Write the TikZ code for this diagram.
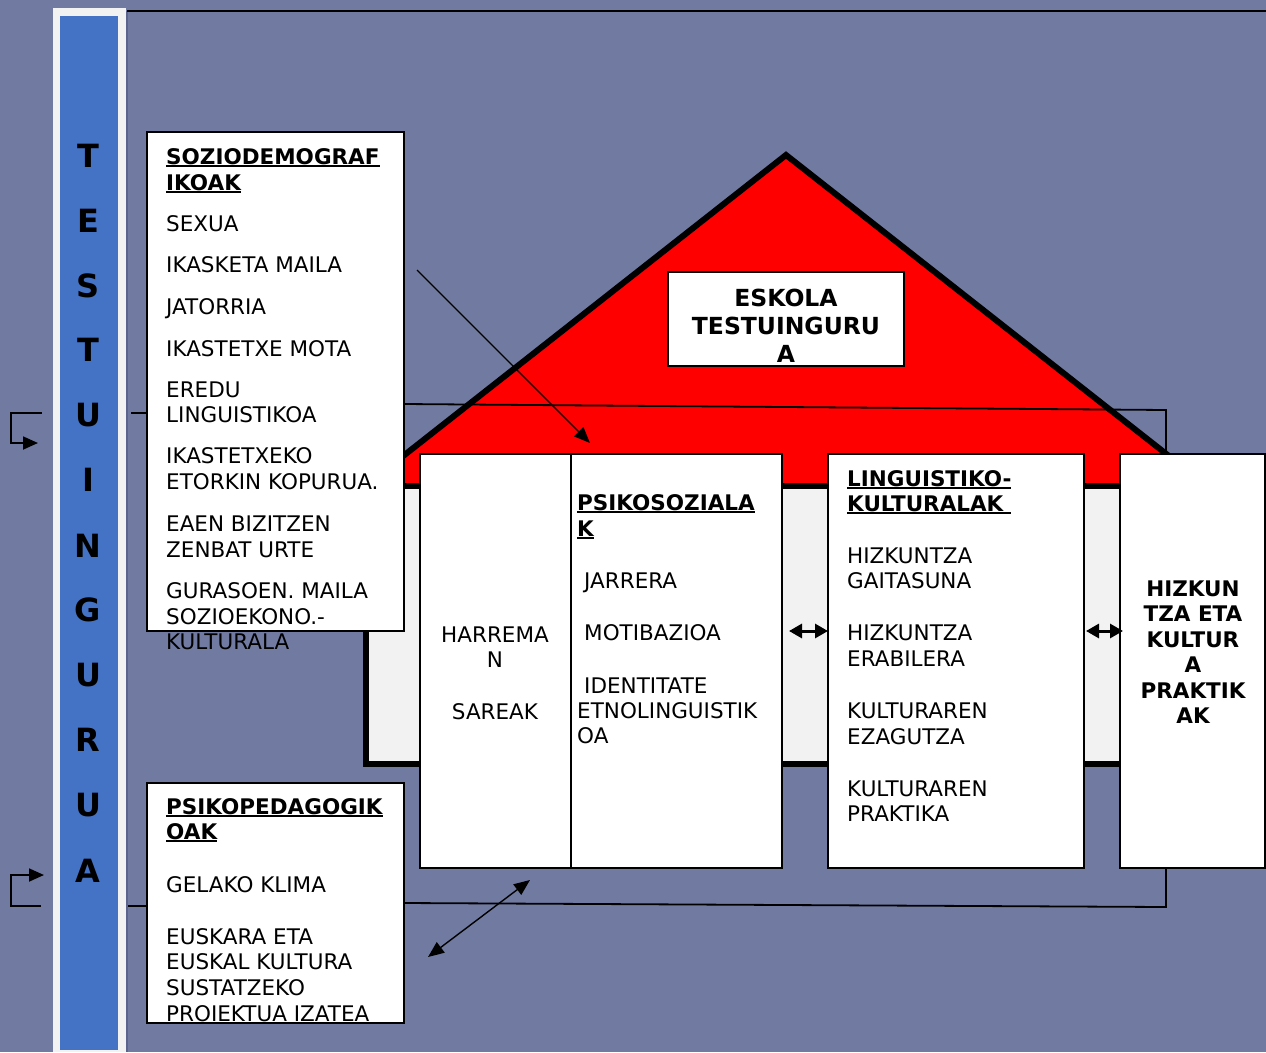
\documentclass[tikz,border=0pt]{standalone}
\usepackage{fontspec}
\setmainfont{DejaVu Sans}
\usetikzlibrary{arrows.meta}
\definecolor{bg}{RGB}{113,123,162}
\definecolor{stripblue}{RGB}{68,114,196}
\definecolor{lgrey}{RGB}{242,242,242}
\definecolor{roofred}{RGB}{255,0,0}
\definecolor{edgeblue}{RGB}{90,100,140}
\newcommand\myul[1]{\setbox0\hbox{#1}\rlap{\rule[-2.7pt]{\wd0}{2pt}}\box0}
\begin{document}
\begin{tikzpicture}[x=1pt,y=-1pt,
  txt/.style={font=\fontsize{21.5}{25.5}\selectfont, anchor=base west, inner sep=0pt},
  btxt/.style={font=\fontsize{21.5}{25.5}\selectfont\bfseries, anchor=base west, inner sep=0pt},
  ctxt/.style={font=\fontsize{21.5}{25.5}\selectfont, anchor=base, inner sep=0pt},
  cbtxt/.style={font=\fontsize{21.5}{25.5}\selectfont\bfseries, anchor=base, inner sep=0pt},
  etxt/.style={font=\fontsize{23.5}{28}\selectfont\bfseries, anchor=base, inner sep=0pt},
  letter/.style={font=\fontsize{32}{36}\selectfont\bfseries, anchor=base, inner sep=0pt},
  box/.style={draw=black, line width=1.5pt, fill=white, anchor=north west, inner sep=0pt, outer sep=0pt},
  conn/.style={line width=1.8pt},
  thinarrow/.style={line width=1.4pt, -{Triangle[length=16pt,width=13pt]}},
  smallarrow/.style={line width=1.8pt, -{Triangle[length=15pt,width=13pt]}},
  dblarrow/.style={line width=1.4pt, {Triangle[length=16pt,width=13pt]}-{Triangle[length=16pt,width=13pt]}},
  thickdbl/.style={line width=3pt, {Triangle[length=13pt,width=14pt]}-{Triangle[length=13pt,width=14pt]}}
]
\useasboundingbox (0,0) rectangle (1266,1052);
\fill[bg] (0,0) rectangle (1266,1052);

% left strip
\fill[lgrey] (53,8) rectangle (126,1052);
\fill[stripblue] (60,16) rectangle (118,1050);
\draw[edgeblue, line width=1.2pt] (127,11) -- (127,1052);
\draw[line width=1.8pt] (127,11) -- (1266,11);
\foreach \l/\yy [count=\i] in {T/167,E/232,S/297,T/361,U/426,I/491,N/557,G/621,U/686,R/751,U/816,A/882}
  \node[letter] (let\i) at (88,\yy) {\l};

% house
\fill[roofred] (365,486) -- (786,155) -- (1207,486) -- cycle;
\draw[line width=6pt, fill=lgrey] (366,486) rectangle (1207,764);
\draw[line width=6pt, line join=miter] (365,486) -- (786,155) -- (1207,486);

% school box
\node[box] (eskola) at (668,272) [minimum width=236pt, minimum height=94pt] {};
\node[etxt] (esk1) at (786,306) {ESKOLA};
\node[etxt] (esk2) at (786,334) {TESTUINGURU};
\node[etxt] (esk3) at (786,362) {A};

% coordinates for connector free ends
\coordinate (cL1) at (131,413);
\coordinate (cR1) at (0,404);
\coordinate (cR2) at (1166,410);
\coordinate (cL2) at (128,906);
\coordinate (cB1) at (0,903);
\coordinate (cB2) at (1166,907);
\coordinate (a1s) at (417,270);
\coordinate (a1e) at (590,443);
\coordinate (a2s) at (428,957);
\coordinate (a2e) at (530,880);
\coordinate (y631) at (0,631);
\coordinate (u1) at (42,413);
\coordinate (u2) at (11,413);
\coordinate (u3) at (11,443);
\coordinate (u4) at (38,443);
\coordinate (d1) at (41,906);
\coordinate (d2) at (11,906);
\coordinate (d3) at (11,875);
\coordinate (d4) at (44,875);

% boxes on the house
\node[box] (harr) at (420,454) [minimum width=151pt, minimum height=414pt] {};
\node[box] (psi) at (571,454) [minimum width=211pt, minimum height=414pt] {};
\node[box] (ling) at (828,454) [minimum width=256pt, minimum height=414pt] {};
\node[box] (prak) at (1120,454) [minimum width=145pt, minimum height=414pt] {};

% connectors
\draw[conn] (cL1) -- (147,413);
\draw[conn] (404,404) -- (cR2) -- (cR2 |- prak.north);
\draw[conn] (cL2) -- (147,906);
\draw[conn] (404,903) -- (cB2) -- (cB2 |- prak.south);
\draw[thinarrow] (a1s) -- (a1e);
\draw[dblarrow] (a2s) -- (a2e);
\draw[thickdbl] ([xshift=7pt]psi.east |- y631) -- (ling.west |- y631);
\draw[thickdbl] ([xshift=2pt]ling.east |- y631) -- ([xshift=3pt]prak.west |- y631);
\draw[smallarrow] (u1) -- (u2) -- (u3) -- (u4);
\draw[smallarrow] (d1) -- (d2) -- (d3) -- (d4);

% left boxes
\node[box, line width=2pt] (soz) at (147,132) [minimum width=257pt, minimum height=499pt] {};
\node[box, line width=2pt] (ped) at (147,783) [minimum width=257pt, minimum height=240pt] {};

% box 1 texts
\node[btxt] (s0a) at (166,164) {\myul{SOZIODEMOGRAF}};
\node[btxt] (s0b) at (166,190) {\myul{IKOAK}};
\node[txt] (s1) at (166,231) {SEXUA};
\node[txt] (s2) at (166,272) {IKASKETA MAILA};
\node[txt] (s3) at (166,314) {JATORRIA};
\node[txt] (s4) at (166,356) {IKASTETXE MOTA};
\node[txt] (s5a) at (166,397) {EREDU};
\node[txt] (s5b) at (166,422) {LINGUISTIKOA};
\node[txt] (s6a) at (166,463) {IKASTETXEKO};
\node[txt] (s6b) at (166,489) {ETORKIN KOPURUA.};
\node[txt] (s7a) at (166,531) {EAEN BIZITZEN};
\node[txt] (s7b) at (166,557) {ZENBAT URTE};
\node[txt] (s8a) at (166,598) {GURASOEN. MAILA};
\node[txt] (s8b) at (166,624) {SOZIOEKONO.-};
\node[txt] (s8c) at (166,649) {KULTURALA};

% box 2 texts
\node[btxt] (p0a) at (166,814) {\myul{PSIKOPEDAGOGIK}};
\node[btxt] (p0b) at (166,839) {\myul{OAK}};
\node[txt] (p1) at (166,892) {GELAKO KLIMA};
\node[txt] (p2a) at (166,944) {EUSKARA ETA};
\node[txt] (p2b) at (166,969) {EUSKAL KULTURA};
\node[txt] (p2c) at (166,995) {SUSTATZEKO};
\node[txt] (p2d) at (166,1021) {PROIEKTUA IZATEA};

% harreman texts
\node[ctxt] (h1) at (495,642) {HARREMA};
\node[ctxt] (h2) at (495,667) {N};
\node[ctxt] (h3) at (495,719) {SAREAK};

% psikosozialak texts
\node[btxt] (q0a) at (577,510) {\myul{PSIKOSOZIALA}};
\node[btxt] (q0b) at (577,536) {\myul{K}};
\node[txt] (q1) at (584,588) {JARRERA};
\node[txt] (q2) at (584,640) {MOTIBAZIOA};
\node[txt] (q3a) at (584,693) {IDENTITATE};
\node[txt] (q3b) at (577,718) {ETNOLINGUISTIK};
\node[txt] (q3c) at (577,743) {OA};

% linguistiko-kulturalak texts
\node[btxt] (l0a) at (847,486) {\myul{LINGUISTIKO-}};
\node[btxt] (l0b) at (847,511) {\myul{KULTURALAK\ }};
\node[txt] (l1a) at (847,563) {HIZKUNTZA};
\node[txt] (l1b) at (847,588) {GAITASUNA};
\node[txt] (l2a) at (847,640) {HIZKUNTZA};
\node[txt] (l2b) at (847,666) {ERABILERA};
\node[txt] (l3a) at (847,718) {KULTURAREN};
\node[txt] (l3b) at (847,744) {EZAGUTZA};
\node[txt] (l4a) at (847,796) {KULTURAREN};
\node[txt] (l4b) at (847,821) {PRAKTIKA};

% praktikak texts
\node[cbtxt] (k1) at (1193,596) {HIZKUN};
\node[cbtxt] (k2) at (1193,621) {TZA ETA};
\node[cbtxt] (k3) at (1193,647) {KULTUR};
\node[cbtxt] (k4) at (1193,672) {A};
\node[cbtxt] (k5) at (1193,698) {PRAKTIK};
\node[cbtxt] (k6) at (1193,723) {AK};
\end{tikzpicture}
\end{document}
